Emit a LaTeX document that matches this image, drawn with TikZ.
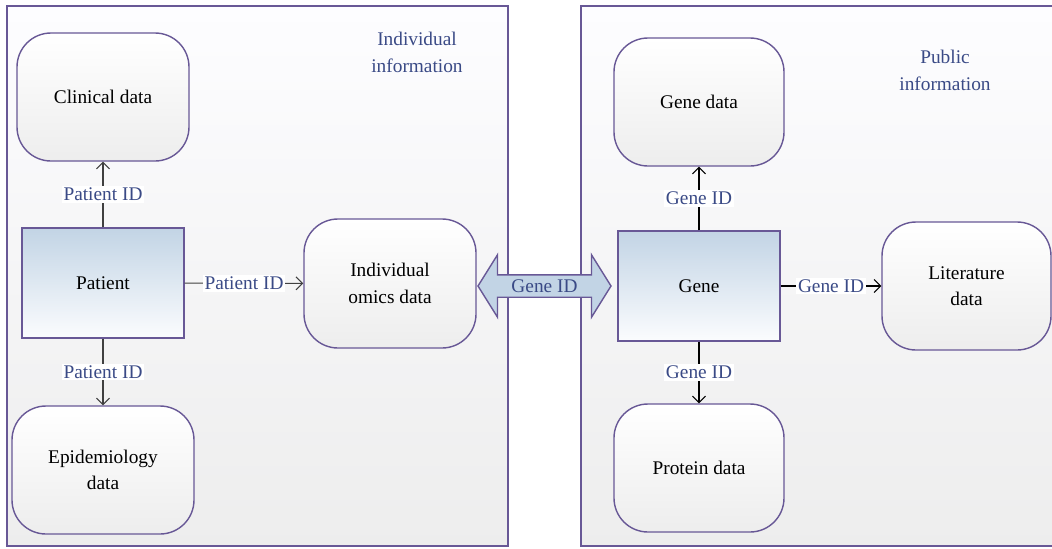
\documentclass[tikz,border=0pt]{standalone}
\usepackage{fontspec}
\setmainfont{Liberation Serif}
\usepackage{tikz}
\usetikzlibrary{positioning,arrows.meta,shapes,calc}
\definecolor{edgepurple}{RGB}{104,88,150}
\definecolor{idblue}{RGB}{58,74,134}
\definecolor{entitytop}{RGB}{194,212,229}
\definecolor{entitymid}{RGB}{226,234,243}
\definecolor{entitybot}{RGB}{251,252,254}
\tikzset{
panel/.style={rectangle, draw=edgepurple, line width=0.8pt, top color=white!60!blue!2, bottom color=black!7},
databox/.style={rectangle, rounded corners=0.68cm, draw=edgepurple, line width=0.8pt,
                top color=white, bottom color=black!7, align=center, minimum height=2.56cm},
entitybox/.style={rectangle, draw=edgepurple, line width=0.8pt,
                top color=entitytop, middle color=entitymid, bottom color=entitybot,
                minimum width=3.24cm, minimum height=2.2cm},
idlabel/.style={fill=white, text=idblue, inner sep=1pt},
grouplabel/.style={text=idblue, align=center},
>={Straight Barb[length=1.3mm,width=2.6mm]}
}

\begin{document}
\begin{tikzpicture}[font=\fontsize{11}{15}\selectfont, line width=0.6pt]
\useasboundingbox (0,0) rectangle (21.04,-10.96);

%Panels
\node[panel, minimum width=10.02cm, minimum height=10.8cm] (indivpanel) at(5.15,-5.52) {};
\node[panel, minimum width=9.5cm, minimum height=10.8cm] (publicpanel) at(16.37,-5.52) {};
\node[grouplabel] (indivtitle) at(8.34,-1.05) {Individual\\information};
\node[grouplabel] (publictitle) at(18.9,-1.41) {Public\\information};

%Individual side
\node[databox, minimum width=3.44cm] (clinical) at(2.06,-1.94) {Clinical data};
\node[entitybox] (patient) at(2.06,-5.66) {Patient};
\node[databox, minimum width=3.64cm] (epidem) at(2.06,-9.40) {Epidemiology\\data};
\node[databox, minimum width=3.44cm, minimum height=2.58cm] (omics) at(7.80,-5.67) {Individual\\omics data};

%Public side
\node[databox, minimum width=3.4cm] (genedata) at(13.98,-2.04) {Gene data};
\node[entitybox] (gene) at(13.98,-5.72) {Gene};
\node[databox, minimum width=3.4cm] (protein) at(13.98,-9.36) {Protein data};
\node[databox, minimum width=3.38cm] (literature) at(19.33,-5.72) {Literature\\data};

%Link between both sides
\node[double arrow, draw=edgepurple, line width=0.8pt, fill=entitytop, text=idblue,
      minimum height=2.66cm, inner xsep=0pt, inner ysep=0.8mm,
      double arrow head extend=0.4cm, double arrow tip angle=116] (link) at(10.89,-5.72) {Gene ID};

\draw[->, black!75] (patient) --node[idlabel] {Patient ID} (clinical) ;
\draw[->, black!75] (patient) --node[idlabel] {Patient ID} (epidem) ;
\draw[->, black!75] (patient) --node[idlabel] {Patient ID} (omics) ;
\draw[->] (gene) --node[idlabel] {Gene ID} (genedata) ;
\draw[->] (gene) --node[idlabel] {Gene ID} (protein) ;
\draw[->] (gene) --node[idlabel] {Gene ID} (literature) ;
\end{tikzpicture}
\end{document}
